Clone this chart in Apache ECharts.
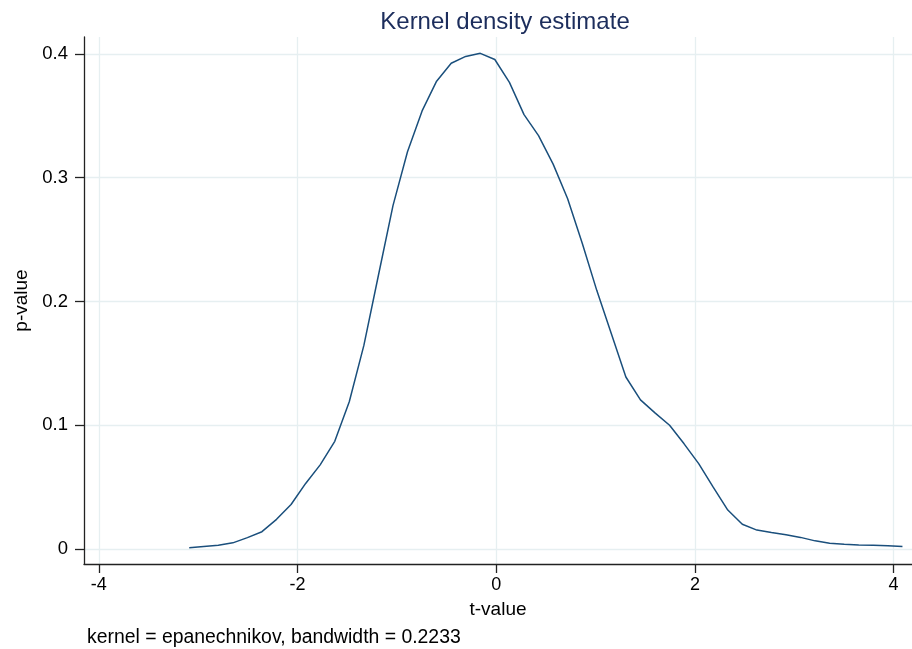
<!DOCTYPE html>
<html>
<head>
<meta charset="utf-8">
<script src="https://cdn.jsdelivr.net/npm/echarts@6/dist/echarts.min.js"></script>
<style>
html,body{margin:0;padding:0;background:#fff;}
#chart{width:912px;height:649px;}
</style>
</head>
<body>
<div id="chart"></div>
<script>
// t-value grid points (x) and estimated density (y)
var tValues = [-3.090,-2.944,-2.797,-2.651,-2.504,-2.358,-2.211,-2.065,-1.918,-1.772,
  -1.625,-1.479,-1.332,-1.186,-1.039,-0.893,-0.746,-0.600,-0.453,-0.307,
  -0.160,-0.014,0.133,0.280,0.426,0.573,0.719,0.866,1.012,1.159,
  1.305,1.452,1.598,1.745,1.891,2.038,2.184,2.331,2.477,2.624,
  2.770,2.917,3.063,3.210,3.356,3.503,3.649,3.796,3.942,4.089];
var density = [0.0010,0.0020,0.0030,0.0050,0.0092,0.0140,0.0240,0.0360,0.0530,0.0680,
  0.0870,0.1190,0.1645,0.2210,0.2775,0.3210,0.3540,0.3780,0.3925,0.3980,
  0.4005,0.3955,0.3770,0.3510,0.3340,0.3110,0.2830,0.2470,0.2090,0.1740,
  0.1390,0.1205,0.1100,0.1000,0.0850,0.0690,0.0500,0.0315,0.0200,0.0153,
  0.0133,0.0115,0.0094,0.0066,0.0046,0.0038,0.0032,0.0030,0.0027,0.0020];
var xTicks = [-4,-2,0,2,4];
var yTicks = [0,0.1,0.2,0.3,0.4];

var FONT = 'Liberation Sans, Arial, Helvetica, sans-serif';
var chart = echarts.init(document.getElementById('chart'), null, {renderer:'canvas'});
var points = tValues.map(function(t,i){return [t, density[i]];});

chart.setOption({
  animation:false,
  backgroundColor:'#ffffff',
  title:{
    text:'Kernel density estimate',
    left:500, top:5, textAlign:'center',
    textStyle:{fontFamily:FONT, fontSize:24, fontWeight:'normal', color:'#1c2d5c'}
  },
  graphic:[{
    type:'text', left:87, top:628,
    style:{text:'kernel = epanechnikov, bandwidth = 0.2233', font:'19.4px '+FONT, fill:'#000'}
  }],
  grid:{left:84, right:0, top:37, bottom:85, containLabel:false},
  xAxis:{
    type:'value', min:-4.149, max:4.185,
    name:'t-value', nameLocation:'middle', nameGap:36,
    nameTextStyle:{fontFamily:FONT, fontSize:19, color:'#000'},
    axisLine:{show:true, onZero:false, lineStyle:{color:'#222', width:1.3}},
    axisTick:{show:true, length:9, customValues:xTicks, lineStyle:{color:'#222', width:1.3}},
    axisLabel:{customValues:xTicks, margin:12, fontFamily:FONT, fontSize:18, color:'#000'},
    splitLine:{show:true, customValues:xTicks, lineStyle:{color:'#e6eff1', width:1.3}}
  },
  yAxis:{
    type:'value', min:-0.0121, max:0.4137,
    name:'p-value', nameLocation:'middle', nameGap:42, nameRotate:90,
    nameTextStyle:{fontFamily:FONT, fontSize:19, color:'#000'},
    axisLine:{show:true, onZero:false, lineStyle:{color:'#222', width:1.3}},
    axisTick:{show:true, length:9, customValues:yTicks, lineStyle:{color:'#222', width:1.3}},
    axisLabel:{customValues:yTicks, margin:16, fontFamily:FONT, fontSize:18.5, color:'#000',
      formatter:function(v){return v===0?'0':String(Math.round(v*10)/10);}},
    splitLine:{show:true, lineStyle:{color:'#e6eff1', width:1.3}}
  },
  series:[{
    type:'line', data:points, showSymbol:false, smooth:false,
    lineStyle:{color:'#1a4f7c', width:1.5}
  }]
});
</script>
</body>
</html>
